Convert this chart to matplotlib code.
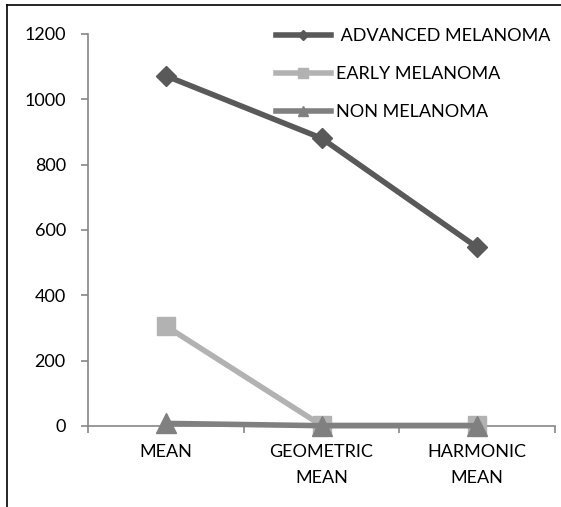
import matplotlib
matplotlib.use("Agg")
import matplotlib.pyplot as plt
from matplotlib.lines import Line2D

plt.rcParams['font.family'] = ['Lato', 'DejaVu Sans']

categories = ["MEAN", "GEOMETRIC\nMEAN", "HARMONIC\nMEAN"]
advanced = [1072, 881, 547]
early = [306, 2, 2]
non_melanoma = [8, 1, 1]
y_ticks = [0, 200, 400, 600, 800, 1000, 1200]

fig = plt.figure(figsize=(5.61, 5.07), dpi=100)
ax = fig.add_axes([88 / 561, 1 - 426 / 507, (555 - 88) / 561, (426 - 34) / 507])

x = [0, 1, 2]
ax.plot(x, advanced, color="#595959", lw=4, marker="D", ms=10, mec="#595959",
        label=" ADVANCED MELANOMA", zorder=3, clip_on=False)
ax.plot(x, early, color="#b2b2b2", lw=4, marker="s", ms=13, mec="#b2b2b2",
        label="EARLY MELANOMA", zorder=3, clip_on=False)
ax.plot(x, non_melanoma, color="#808080", lw=4, marker="^", ms=14, mec="#808080",
        label="NON MELANOMA", zorder=4, clip_on=False)

ax.set_xlim(-0.5, 2.5)
ax.set_ylim(0, 1200)
ax.set_yticks(y_ticks)
ax.set_yticklabels([str(v) for v in y_ticks], fontsize=13)
ax.set_xticks([-0.5, 0.5, 1.5, 2.5])
ax.set_xticklabels([])
ax.set_xticks(x, minor=True)
ax.set_xticklabels(categories, minor=True, fontsize=13, linespacing=1.75)
ax.tick_params(axis="x", which="minor", length=0, pad=13)
ax.tick_params(axis="x", which="major", length=5, color="#868686", width=1.2, direction="out")
ax.tick_params(axis="y", length=5, color="#868686", width=1.2, pad=11)

for side in ("top", "right"):
    ax.spines[side].set_visible(False)
for side in ("left", "bottom"):
    ax.spines[side].set_color("#868686")
    ax.spines[side].set_linewidth(1.2)

leg = ax.legend(loc="upper right", bbox_to_anchor=(1.017, 1.048), frameon=False, fontsize=13,
                handlelength=3.0, handletextpad=0.3, labelspacing=1.22, markerscale=0.5,
                borderpad=0.2)

# outer frame
fig.add_artist(Line2D([7 / 561, 7 / 561], [0, 1 - 5 / 507], color="black", lw=1.2,
                      transform=fig.transFigure))
fig.add_artist(Line2D([7 / 561, 1], [1 - 5 / 507, 1 - 5 / 507], color="black", lw=1.2,
                      transform=fig.transFigure))

fig.savefig("out.png", dpi=100)
